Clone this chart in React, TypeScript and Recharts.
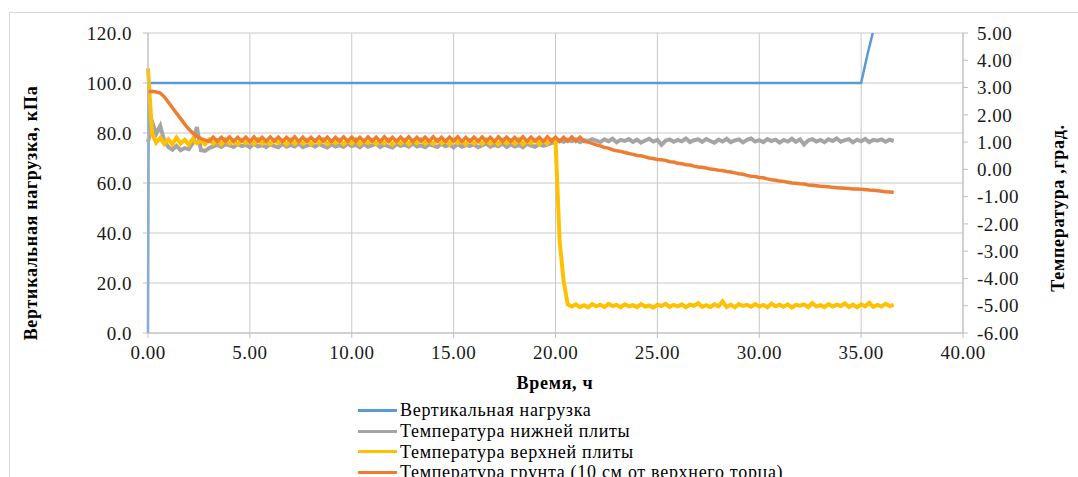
import React from 'react';
import { LineChart, Line, XAxis, YAxis, CartesianGrid } from 'recharts';

// time axis, hours
const hourTicks = [0, 5, 10, 15, 20, 25, 30, 35, 40];
const loadTicks = [0, 20, 40, 60, 80, 100, 120];
const tempTicks = [-6, -5, -4, -3, -2, -1, 0, 1, 2, 3, 4, 5];

// vertical load, kPa (left axis)
const loadHours = [0, 0.03, 35.0, 35.3, 35.6, 35.9];
const loadKPa = [0, 100, 100, 111, 121, 124];

// temperature sensors, logged every 0.2 h from 0 to 36.6 h
const tempHours = Array.from({ length: 184 }, (_, i) => Math.round(i * 2) / 10);

const lowerPlate = [
  1.00, 1.75, 1.30, 1.60, 1.05, 0.82, 0.72, 0.86, 0.70, 0.78,
  0.74, 0.96, 1.55, 0.70, 0.68, 0.78, 0.84, 0.90, 0.82, 0.92,
  0.88, 0.82, 0.93, 0.85, 0.90, 0.81, 0.94, 0.84, 0.89, 0.82,
  0.92, 0.85, 0.81, 0.94, 0.83, 0.90, 0.84, 0.95, 0.81, 0.87,
  0.91, 0.83, 0.93, 0.86, 0.80, 0.92, 0.84, 0.89, 0.82, 0.94,
  0.85, 0.90, 0.81, 0.93, 0.83, 0.88, 0.94, 0.82, 0.91, 0.84,
  0.80, 0.93, 0.86, 0.90, 0.83, 0.95, 0.84, 0.88, 0.81, 0.92,
  0.87, 0.82, 0.94, 0.85, 0.91, 0.80, 0.93, 0.83, 0.89, 0.86,
  0.92, 0.81, 0.88, 0.94, 0.83, 0.90, 0.85, 0.95, 0.82, 0.92,
  0.84, 0.89, 0.81, 0.94, 0.87, 0.83, 0.93, 0.86, 0.91, 0.96,
  1.00, 1.06, 1.01, 1.09, 1.03, 1.10, 1.00, 1.07, 1.04, 1.11,
  1.05, 1.00, 1.10, 1.03, 1.12, 0.99, 1.08, 1.04, 1.11, 1.01,
  1.09, 0.98, 1.06, 1.12, 1.02, 1.08, 0.90, 1.05, 1.10, 1.01,
  1.08, 1.03, 1.13, 1.00, 1.07, 1.10, 1.01, 1.11, 1.04, 0.98,
  1.09, 1.02, 1.12, 1.00, 1.06, 1.10, 0.99, 1.08, 1.13, 1.02,
  1.07, 1.00, 1.11, 1.04, 1.09, 0.98, 1.08, 1.02, 1.12, 1.01,
  1.10, 0.91, 1.06, 1.11, 1.02, 1.08, 1.00, 1.10, 1.04, 1.13,
  1.01, 1.07, 1.11, 0.99, 1.09, 1.03, 1.12, 1.00, 1.08, 1.05,
  1.10, 1.01, 1.09, 1.04,
];

const upperPlate = [
  3.70, 1.30, 0.98, 1.15, 0.94, 1.10, 0.92, 1.16, 0.95, 1.08,
  0.91, 1.12, 0.96, 1.05, 0.92, 1.09, 0.94, 1.06, 0.91, 1.10,
  0.95, 1.04, 0.92, 1.08, 0.96, 1.05, 0.93, 1.10, 0.94, 1.03,
  0.92, 1.07, 0.96, 1.05, 0.91, 1.09, 0.94, 1.04, 0.95, 1.08,
  0.92, 1.06, 0.95, 1.10, 0.93, 1.03, 0.96, 1.08, 0.92, 1.05,
  0.94, 1.10, 0.92, 1.04, 0.96, 1.07, 0.93, 1.05, 0.95, 1.09,
  0.91, 1.04, 0.95, 1.08, 0.92, 1.06, 0.96, 1.10, 0.94, 1.03,
  0.93, 1.08, 0.95, 1.05, 0.92, 1.10, 0.96, 1.04, 0.92, 1.07,
  0.95, 1.05, 0.93, 1.09, 0.94, 1.04, 0.92, 1.08, 0.96, 1.06,
  0.94, 1.10, 0.92, 1.03, 0.96, 1.08, 0.93, 1.05, 0.95, 1.10,
  1.08, -2.60, -4.10, -4.95, -5.03, -4.95, -5.05, -4.98, -5.06, -4.94,
  -5.02, -4.96, -5.05, -4.93, -5.01, -4.97, -5.06, -4.95, -5.02, -4.98,
  -5.05, -4.94, -5.03, -4.99, -5.07, -4.96, -5.01, -4.93, -5.04, -4.97,
  -5.02, -4.95, -5.06, -4.96, -5.00, -4.91, -5.04, -4.98, -5.05, -4.95,
  -5.02, -4.84, -5.05, -4.96, -5.06, -4.94, -5.01, -4.97, -5.04, -4.94,
  -5.03, -4.97, -5.06, -4.93, -5.02, -4.96, -5.04, -4.95, -5.07, -4.97,
  -5.00, -4.95, -5.05, -4.90, -5.03, -4.98, -5.05, -4.94, -5.03, -4.96,
  -5.01, -4.92, -5.04, -4.96, -5.06, -4.95, -5.02, -4.89, -5.04, -4.97,
  -5.03, -4.93, -5.01, -4.97,
];

const soil10cm = [
  2.85, 2.86, 2.84, 2.80, 2.66, 2.46, 2.26, 2.06, 1.86, 1.66,
  1.48, 1.33, 1.21, 1.13, 1.07, 1.03, 1.18, 1.03, 1.17, 1.04,
  1.19, 1.03, 1.17, 1.04, 1.18, 1.02, 1.19, 1.03, 1.17, 1.03,
  1.19, 1.04, 1.18, 1.03, 1.17, 1.04, 1.19, 1.02, 1.18, 1.03,
  1.17, 1.03, 1.19, 1.04, 1.18, 1.02, 1.17, 1.04, 1.19, 1.03,
  1.18, 1.03, 1.17, 1.03, 1.19, 1.04, 1.18, 1.02, 1.19, 1.03,
  1.17, 1.03, 1.18, 1.04, 1.19, 1.02, 1.17, 1.04, 1.18, 1.03,
  1.19, 1.03, 1.17, 1.03, 1.18, 1.04, 1.19, 1.02, 1.17, 1.03,
  1.18, 1.03, 1.19, 1.04, 1.17, 1.02, 1.19, 1.04, 1.18, 1.03,
  1.17, 1.03, 1.19, 1.03, 1.18, 1.04, 1.17, 1.02, 1.19, 1.03,
  1.18, 1.03, 1.17, 1.04, 1.19, 1.03, 1.18, 1.03, 1.00, 0.95,
  0.90, 0.86, 0.80, 0.78, 0.72, 0.68, 0.66, 0.62, 0.58, 0.55,
  0.51, 0.50, 0.46, 0.42, 0.40, 0.36, 0.35, 0.33, 0.28, 0.27,
  0.22, 0.21, 0.17, 0.16, 0.12, 0.09, 0.08, 0.05, 0.01, 0.00,
  -0.03, -0.04, -0.08, -0.10, -0.13, -0.16, -0.18, -0.22, -0.25, -0.26,
  -0.30, -0.31, -0.35, -0.38, -0.40, -0.43, -0.44, -0.47, -0.50, -0.51,
  -0.53, -0.54, -0.57, -0.58, -0.60, -0.62, -0.63, -0.64, -0.66, -0.67,
  -0.68, -0.69, -0.70, -0.72, -0.72, -0.73, -0.74, -0.76, -0.77, -0.78,
  -0.80, -0.82, -0.83, -0.84,
];

const seriesNames = [
  'Вертикальная нагрузка',
  'Температура нижней плиты',
  'Температура верхней плиты',
  'Температура грунта (10 см от верхнего торца)',
];
const seriesColors = ['#5B9BD5', '#A5A5A5', '#FFC000', '#ED7D31'];

const toPoints = (hours: number[], values: number[]) =>
  hours.map((t, i) => ({ t, v: values[i] }));

const loadData = toPoints(loadHours, loadKPa);
const lowerData = toPoints(tempHours, lowerPlate);
const upperData = toPoints(tempHours, upperPlate);
const soilData = toPoints(tempHours, soil10cm);

const FONT = "'Liberation Serif', Tinos, 'Times New Roman', 'DejaVu Serif', serif";
const tickStyle = { fill: '#1a1a1a', fontSize: 19, fontFamily: FONT, letterSpacing: 0.5 };
const axisGray = '#BFBFBF';
const titleStyle: React.CSSProperties = {
  position: 'absolute',
  whiteSpace: 'nowrap',
  fontWeight: 'bold',
  fontSize: 18,
  letterSpacing: 0.7,
  color: '#000',
};

export default function App() {
  return (
    <div style={{ position: 'absolute', left: 0, top: 0, width: 1078, height: 477, background: '#fff', overflow: 'hidden', fontFamily: FONT }}>
      {/* chart frame */}
      <div style={{ position: 'absolute', left: 9, top: 12, width: 1100, height: 500, border: '1px solid #D9D9D9' }} />

      <div style={{ position: 'absolute', left: 0, top: 0 }}>
        <LineChart width={1078} height={477} margin={{ top: 33, right: 55, bottom: 114, left: 88 }} style={{ fontFamily: FONT }}>
          <CartesianGrid stroke="#C8C8C8" strokeWidth={1} />
          <XAxis
            dataKey="t"
            type="number"
            domain={[0, 40]}
            ticks={hourTicks}
            tickFormatter={(v: number) => v.toFixed(2)}
            tick={tickStyle}
            tickSize={5}
            tickMargin={8}
            height={30}
            axisLine={{ stroke: axisGray }}
            tickLine={{ stroke: axisGray }}
          />
          <YAxis
            domain={[0, 120]}
            ticks={loadTicks}
            allowDataOverflow
            tickFormatter={(v: number) => v.toFixed(1)}
            tick={tickStyle}
            tickSize={5}
            tickMargin={11}
            width={60}
            axisLine={{ stroke: axisGray }}
            tickLine={{ stroke: axisGray }}
          />
          <YAxis
            yAxisId="t"
            orientation="right"
            domain={[-6, 5]}
            ticks={tempTicks}
            allowDataOverflow
            tickFormatter={(v: number) => v.toFixed(2)}
            tick={tickStyle}
            tickSize={5}
            tickMargin={9}
            width={60}
            axisLine={{ stroke: axisGray }}
            tickLine={{ stroke: axisGray }}
          />
          <Line data={loadData} dataKey="v" stroke={seriesColors[0]} strokeWidth={2.5} dot={false} activeDot={false} isAnimationActive={false} />
          <Line data={lowerData} dataKey="v" yAxisId="t" stroke={seriesColors[1]} strokeWidth={4} dot={false} activeDot={false} isAnimationActive={false} />
          <Line data={upperData} dataKey="v" yAxisId="t" stroke={seriesColors[2]} strokeWidth={4} dot={false} activeDot={false} isAnimationActive={false} />
          <Line data={soilData} dataKey="v" yAxisId="t" stroke={seriesColors[3]} strokeWidth={3.5} dot={false} activeDot={false} isAnimationActive={false} />
        </LineChart>
      </div>

      {/* axis titles */}
      <div style={{ ...titleStyle, left: 31, top: 213, transform: 'translate(-50%, -50%) rotate(-90deg)' }}>
        Вертикальная нагрузка, кПа
      </div>
      <div style={{ ...titleStyle, left: 1058, top: 208, transform: 'translate(-50%, -50%) rotate(-90deg)' }}>
        Температура ,град.
      </div>
      <div style={{ ...titleStyle, left: 555, top: 383, transform: 'translate(-50%, -50%)' }}>
        Время, ч
      </div>

      {/* legend */}
      <div style={{ position: 'absolute', left: 358, top: 400 }}>
        {seriesNames.map((name, i) => (
          <div key={name} style={{ display: 'flex', alignItems: 'center', height: 20.7 }}>
            <div style={{ width: 39, height: 3, background: seriesColors[i], marginRight: 3 }} />
            <span style={{ fontSize: 18, letterSpacing: 0.7, color: '#000', whiteSpace: 'nowrap', lineHeight: '20px' }}>{name}</span>
          </div>
        ))}
      </div>
    </div>
  );
}
